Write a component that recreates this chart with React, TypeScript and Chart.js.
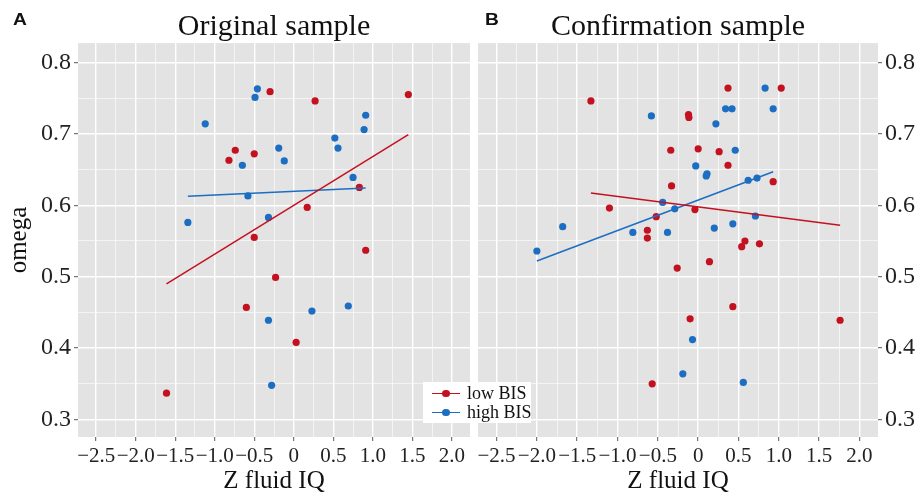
import React, { useEffect, useRef } from "react";
import { Chart, registerables } from "chart.js";

Chart.register(...registerables);

// ---------- data ----------
const origLowX = [-0.30, 0.27, 1.45, -0.82, -0.74, -0.50, 0.83, 0.17, -0.50, 0.91, -0.23, -0.60, 0.03, -1.61];
const origLowY = [0.759, 0.746, 0.755, 0.663, 0.677, 0.672, 0.625, 0.597, 0.555, 0.537, 0.499, 0.457, 0.408, 0.337];
const origHighX = [-0.46, -0.49, -1.12, 0.91, 0.89, 0.52, 0.56, -0.19, -0.12, -0.65, 0.75, -0.58, -1.34, -0.32, -0.32, 0.23, 0.69, -0.28];
const origHighY = [0.763, 0.751, 0.714, 0.726, 0.706, 0.694, 0.680, 0.680, 0.662, 0.656, 0.639, 0.613, 0.576, 0.583, 0.439, 0.452, 0.459, 0.348];

const confLowX = [-1.33, 0.37, 1.03, -0.12, -0.115, -0.34, 0.00, 0.26, 0.37, 0.93, -0.33, -1.10, -0.04, -0.52, -0.63, -0.63, 0.58, 0.54, 0.76, -0.26, 0.14, 0.43, -0.10, 1.76, -0.57];
const confLowY = [0.746, 0.764, 0.764, 0.727, 0.723, 0.677, 0.679, 0.675, 0.656, 0.633, 0.627, 0.596, 0.594, 0.584, 0.565, 0.554, 0.550, 0.542, 0.546, 0.512, 0.521, 0.458, 0.441, 0.439, 0.350];
const confHighX = [0.83, 0.93, 0.34, 0.42, -0.58, 0.22, 0.46, -0.03, 0.11, 0.10, 0.62, 0.73, -0.44, -0.29, 0.71, -1.68, -0.81, -0.38, 0.20, 0.43, -2.00, -0.07, -0.19, 0.56];
const confHighY = [0.764, 0.735, 0.735, 0.735, 0.725, 0.714, 0.677, 0.655, 0.644, 0.641, 0.635, 0.638, 0.604, 0.595, 0.585, 0.570, 0.562, 0.562, 0.568, 0.574, 0.536, 0.412, 0.364, 0.352];

// regression lines (endpoints)
const origLowFitX = [-1.61, 1.45];
const origLowFitY = [0.490, 0.699];
const origHighFitX = [-1.34, 0.91];
const origHighFitY = [0.6125, 0.624];
const confLowFitX = [-1.33, 1.76];
const confLowFitY = [0.617, 0.572];
const confHighFitX = [-2.0, 0.93];
const confHighFitY = [0.522, 0.647];

// ticks
const xTickValues = [-2.5, -2, -1.5, -1, -0.5, 0, 0.5, 1, 1.5, 2];
const xTickLabels = ["\u22122.5", "\u22122.0", "\u22121.5", "\u22121.0", "\u22120.5", "0", "0.5", "1.0", "1.5", "2.0"];
const xMinorValues = [-2.25, -1.75, -1.25, -0.75, -0.25, 0.25, 0.75, 1.25, 1.75];
const yTickValues = [0.3, 0.4, 0.5, 0.6, 0.7, 0.8];
const yTickLabels = ["0.3", "0.4", "0.5", "0.6", "0.7", "0.8"];
const yMinorValues = [0.35, 0.45, 0.55, 0.65, 0.75];

const seriesNames = ["low BIS", "high BIS"];
const titles = ["Original sample", "Confirmation sample"];
const panelLetters = ["A", "B"];

const RED = "#c4111f";
const BLUE = "#1b6ec2";
const BG = "#e3e3e3";
const SERIF = "'Liberation Serif', 'Times New Roman', serif";

const X_MIN = -2.73;
const X_MAX = 2.23;
const Y_MIN = 0.2756;
const Y_MAX = 0.827;

const pts = (xs: number[], ys: number[]) => xs.map((x, i) => ({ x, y: ys[i] }));

function labelFor(v: number, vals: number[], labels: string[]) {
  const i = vals.findIndex((t) => Math.abs(t - v) < 1e-9);
  return i >= 0 ? labels[i] : "";
}
function isMajor(v: number, vals: number[]) {
  return vals.some((t) => Math.abs(t - v) < 1e-9);
}

const bgPlugin = {
  id: "panelBg",
  beforeDraw(chart: any) {
    const { ctx, chartArea } = chart;
    ctx.save();
    ctx.fillStyle = BG;
    ctx.fillRect(chartArea.left, chartArea.top, chartArea.right - chartArea.left, chartArea.bottom - chartArea.top);
    ctx.restore();
  },
};

function makeConfig(opts: {
  low: { x: number; y: number }[];
  high: { x: number; y: number }[];
  lowFit: { x: number; y: number }[];
  highFit: { x: number; y: number }[];
  title: string;
  yPos: "left" | "right";
  yWidth: number;
  yTitle: string;
  padding: any;
}) {
  const gridCommon = (major: number[]) => ({
    color: "#ffffff",
    lineWidth: (c: any) => (c.tick && isMajor(c.tick.value, major) ? 1.4 : 0.6),
    tickColor: (c: any) => (c.tick && isMajor(c.tick.value, major) ? "#555555" : "rgba(0,0,0,0)"),
    tickLength: 4,
    tickWidth: 1,
    drawTicks: true,
  });
  return {
    type: "scatter",
    data: {
      datasets: [
        { label: seriesNames[0] + " fit", data: opts.lowFit, showLine: true, borderColor: RED, borderWidth: 1.5, pointRadius: 0 },
        { label: seriesNames[1] + " fit", data: opts.highFit, showLine: true, borderColor: BLUE, borderWidth: 1.5, pointRadius: 0 },
        { label: seriesNames[0], data: opts.low, backgroundColor: RED, borderWidth: 0, pointRadius: 3.6 },
        { label: seriesNames[1], data: opts.high, backgroundColor: BLUE, borderWidth: 0, pointRadius: 3.6 },
      ],
    },
    options: {
      responsive: false,
      animation: false,
      events: [],
      layout: { padding: opts.padding },
      plugins: {
        legend: { display: false },
        tooltip: { enabled: false },
        title: {
          display: true,
          text: opts.title,
          fullSize: false,
          color: "#111111",
          font: { family: SERIF, size: 30, weight: "normal", lineHeight: 1.07 },
          padding: { top: 11, bottom: 0 },
        },
      },
      scales: {
        x: {
          type: "linear",
          min: X_MIN,
          max: X_MAX,
          afterBuildTicks: (s: any) => {
            s.ticks = [...xTickValues, ...xMinorValues].sort((a, b) => a - b).map((v) => ({ value: v }));
          },
          afterFit: (s: any) => {
            s.height = 59;
          },
          border: { display: false },
          grid: gridCommon(xTickValues),
          ticks: {
            autoSkip: false,
            maxRotation: 0,
            padding: 3,
            color: "#222222",
            font: { family: SERIF, size: 21 },
            callback: (v: any) => labelFor(Number(v), xTickValues, xTickLabels),
          },
          title: {
            display: true,
            text: "Z fluid IQ",
            color: "#111111",
            font: { family: SERIF, size: 25 },
            padding: { top: 0, bottom: 0 },
          },
        },
        y: {
          type: "linear",
          position: opts.yPos,
          min: Y_MIN,
          max: Y_MAX,
          afterBuildTicks: (s: any) => {
            s.ticks = [...yTickValues, ...yMinorValues].sort((a, b) => a - b).map((v) => ({ value: v }));
          },
          afterFit: (s: any) => {
            s.width = opts.yWidth;
          },
          border: { display: false },
          grid: gridCommon(yTickValues),
          ticks: {
            autoSkip: false,
            padding: 3,
            color: "#222222",
            font: { family: SERIF, size: 24 },
            callback: (v: any) => labelFor(Number(v), yTickValues, yTickLabels),
          },
          title: {
            display: opts.yTitle !== "",
            text: opts.yTitle,
            color: "#111111",
            font: { family: SERIF, size: 25 },
            padding: { top: 4, bottom: 0 },
          },
        },
      },
    },
    plugins: [bgPlugin],
  };
}

export default function App() {
  const refA = useRef<HTMLCanvasElement>(null);
  const refB = useRef<HTMLCanvasElement>(null);

  useEffect(() => {
    document.body.style.margin = "0";
    const a = new Chart(
      refA.current as HTMLCanvasElement,
      makeConfig({
        low: pts(origLowX, origLowY),
        high: pts(origHighX, origHighY),
        lowFit: pts(origLowFitX, origLowFitY),
        highFit: pts(origHighFitX, origHighFitY),
        title: titles[0],
        yPos: "left",
        yWidth: 78,
        yTitle: "omega",
        padding: { left: 0, right: 3, top: 0, bottom: 0 },
      }) as any
    );
    const b = new Chart(
      refB.current as HTMLCanvasElement,
      makeConfig({
        low: pts(confLowX, confLowY),
        high: pts(confHighX, confHighY),
        lowFit: pts(confLowFitX, confLowFitY),
        highFit: pts(confHighFitX, confHighFitY),
        title: titles[1],
        yPos: "right",
        yWidth: 43,
        yTitle: "",
        padding: { left: 4, right: 0, top: 0, bottom: 0 },
      }) as any
    );
    return () => {
      a.destroy();
      b.destroy();
    };
  }, []);

  const letterStyle: React.CSSProperties = {
    position: "absolute",
    top: 12,
    fontFamily: "'Liberation Sans', Arial, sans-serif",
    fontWeight: "bold",
    fontSize: 16,
    lineHeight: "16px",
    color: "#111",
    display: "inline-block",
    transform: "scaleX(1.2)",
    transformOrigin: "left top",
  };
  const legendText: React.CSSProperties = {
    position: "absolute",
    left: 44,
    fontFamily: SERIF,
    fontSize: 18,
    lineHeight: "18px",
    color: "#111",
    whiteSpace: "nowrap",
  };
  const legendLine = (color: string, top: number) => (
    <>
      <div style={{ position: "absolute", left: 9, top: top - 0.75, width: 28, height: 1.5, background: color }} />
      <div style={{ position: "absolute", left: 23 - 3.6, top: top - 3.6, width: 7.2, height: 7.2, borderRadius: "50%", background: color }} />
    </>
  );

  return (
    <div style={{ position: "fixed", left: 0, top: 0, width: 921, height: 496, background: "#fff", overflow: "hidden" }}>
      <canvas ref={refA} width={474} height={496} style={{ position: "absolute", left: 0, top: 0 }} />
      <canvas ref={refB} width={447} height={496} style={{ position: "absolute", left: 474, top: 0 }} />
      <span style={{ ...letterStyle, left: 13 }}>{panelLetters[0]}</span>
      <span style={{ ...letterStyle, left: 485 }}>{panelLetters[1]}</span>
      <div style={{ position: "absolute", left: 423, top: 382, width: 108, height: 41, background: "#fff" }}>
        {legendLine(RED, 11.3)}
        {legendLine(BLUE, 30.7)}
        <span style={{ ...legendText, top: 2 }}>{seriesNames[0]}</span>
        <span style={{ ...legendText, top: 21 }}>{seriesNames[1]}</span>
      </div>
    </div>
  );
}
